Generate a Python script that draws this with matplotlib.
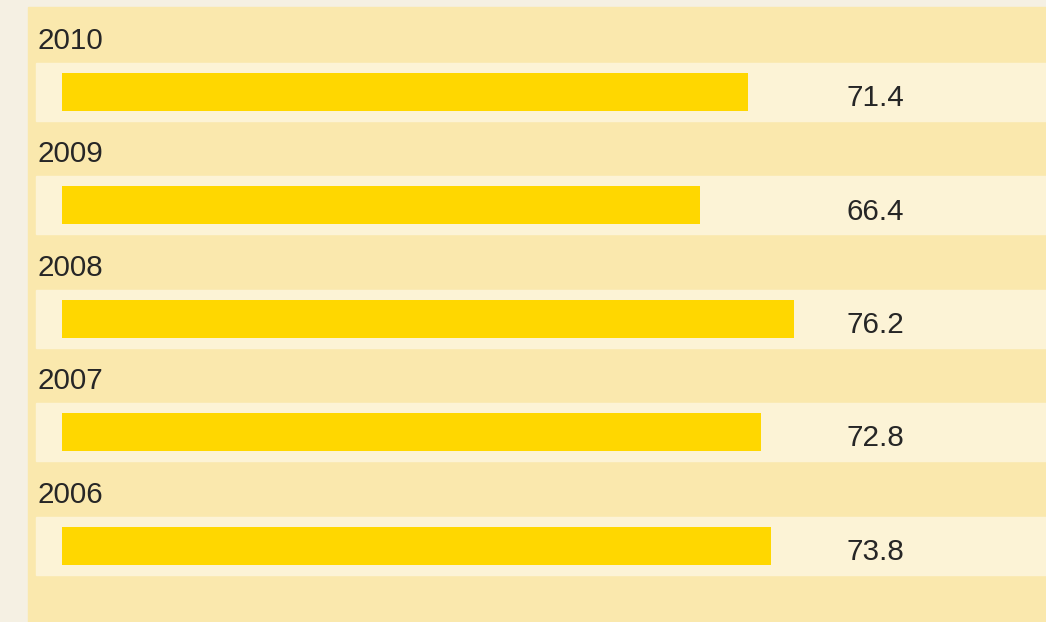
import matplotlib
matplotlib.use("Agg")
import matplotlib.pyplot as plt
from matplotlib.patches import Rectangle

years = ["2010", "2009", "2008", "2007", "2006"]
values = [71.4, 66.4, 76.2, 72.8, 73.8]

W, H = 1046, 622
fig = plt.figure(figsize=(W / 100, H / 100), dpi=100)
fig.patch.set_facecolor("#f5f0e3")

ax = fig.add_axes([0, 0, 1, 1])
ax.set_facecolor("none")
ax.set_xlim(-62 / 9.608, (W - 62) / 9.608)
row = 113.4
ax.set_ylim((H - 92) / row, -92 / row)
ax.axis("off")

# panel behind the rows, in axes fraction
ax.add_patch(Rectangle((28 / W, 0), 1 - 28 / W, 1 - 7 / H,
                       transform=ax.transAxes, color="#fae8ad", zorder=0))

band_left = (36 - 62) / 9.608
for i, (year, val) in enumerate(zip(years, values)):
    ax.add_patch(Rectangle((band_left, i - 0.256), 200, 0.512,
                           color="#fcf3d6", zorder=1))
    ax.text((38 - 62) / 9.608, i - 0.45, year, fontsize=21.3,
            family="Liberation Sans", color="#262626", va="center", ha="left")
    ax.text(81.6, i + 0.055, f"{val:.1f}", fontsize=21.3,
            family="Liberation Sans", color="#262626", va="center", ha="left")

ax.barh(range(len(years)), values, height=0.335, left=0, color="#ffd700", zorder=2)

fig.savefig("out.png", dpi=100, facecolor=fig.get_facecolor())
